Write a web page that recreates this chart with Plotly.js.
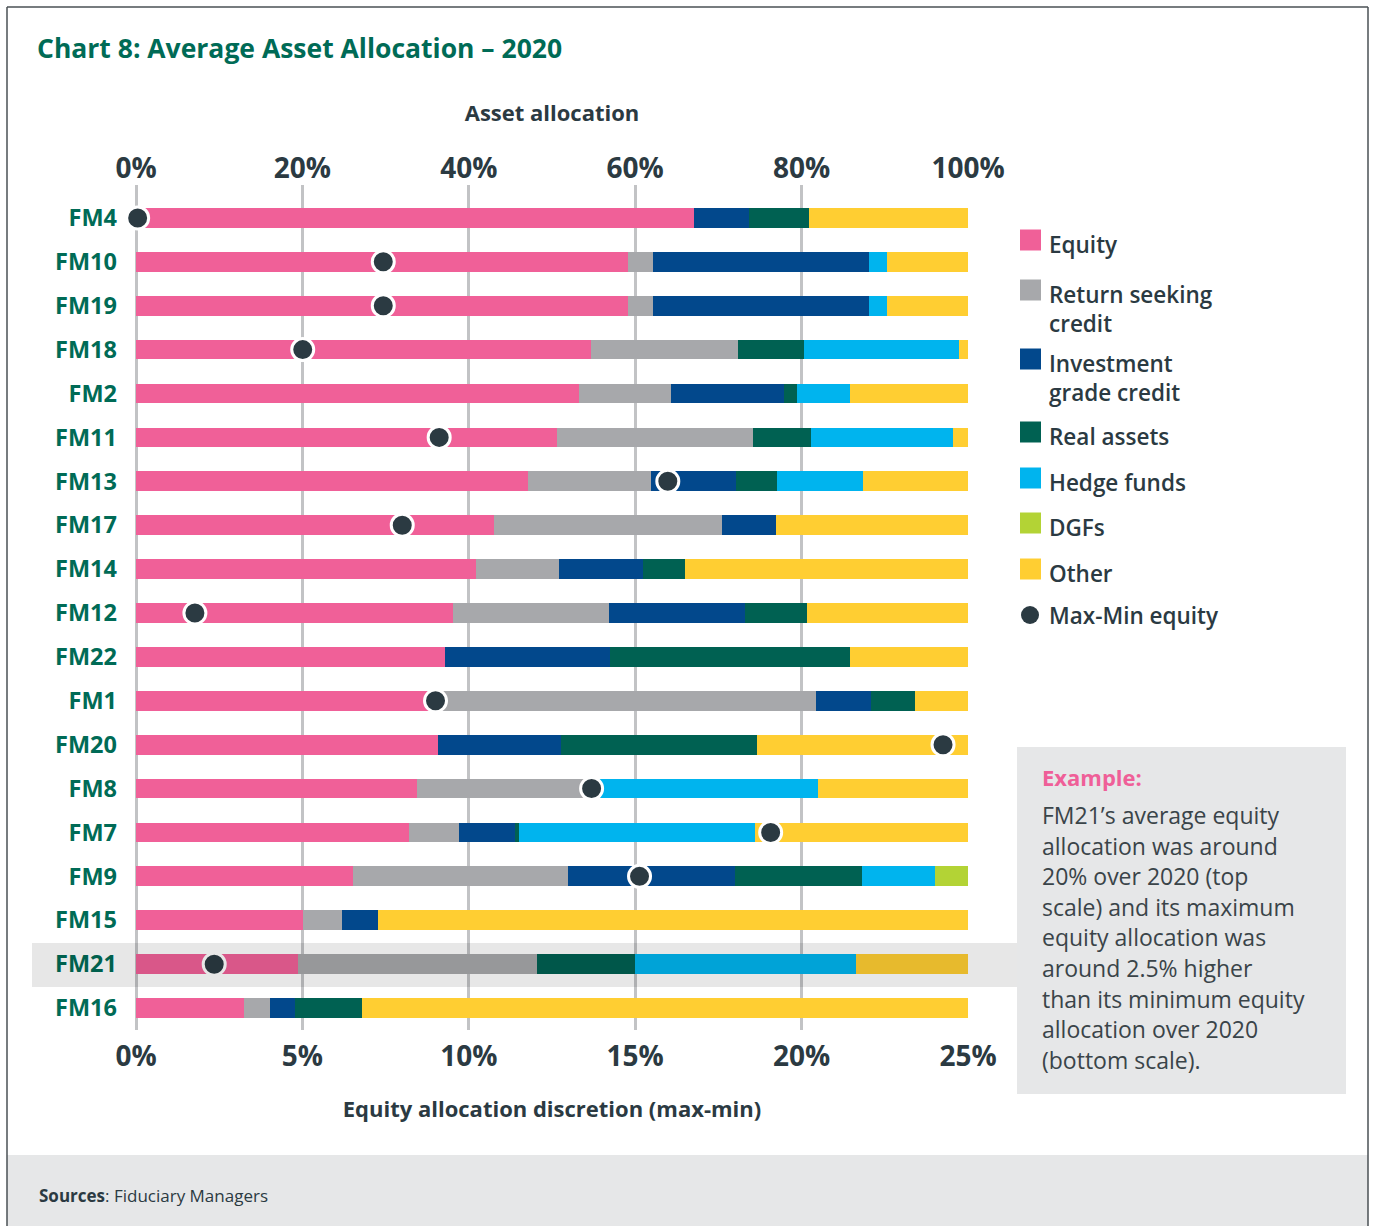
<!DOCTYPE html>
<html>
<head>
<meta charset="utf-8">
<script src="https://cdn.plot.ly/plotly-3.0.1.min.js"></script>
<style>html,body{margin:0;padding:0;background:#fff;}#chart{width:1373px;height:1226px;}</style>
</head>
<body>
<div id="chart"></div>
<script>
// ---------- DATA ----------
const managers = ["FM4","FM10","FM19","FM18","FM2","FM11","FM13","FM17","FM14","FM12","FM22","FM1","FM20","FM8","FM7","FM9","FM15","FM21","FM16"];
const equity      = [67.1, 59.1, 59.1, 54.7, 53.2, 50.6, 47.1, 43.0, 40.9, 38.1, 37.1, 35.9, 36.3, 33.8, 32.8, 26.1, 20.1, 19.5, 13.0];
const returnCredit= [ 0.0,  3.0,  3.0, 17.7, 11.1, 23.6, 14.8, 27.4,  9.9, 18.8,  0.0, 45.8,  0.0, 21.0,  6.0, 25.8,  4.7, 28.7,  3.1];
const igCredit    = [ 6.6, 26.0, 26.0,  0.0, 13.6,  0.0, 10.2,  6.5, 10.1, 16.3, 19.9,  6.6, 14.8,  0.0,  6.8, 20.1,  4.3,  0.0,  3.0];
const realAssets  = [ 7.2,  0.0,  0.0,  7.9,  1.5,  6.9,  4.9,  0.0,  5.1,  7.4, 28.8,  5.3, 23.5,  0.0,  0.4, 15.3,  0.0, 11.8,  8.1];
const hedgeFunds  = [ 0.0,  2.2,  2.2, 18.6,  6.4, 17.1, 10.4,  0.0,  0.0,  0.0,  0.0,  0.0,  0.0, 27.2, 28.4,  8.7,  0.0, 26.5,  0.0];
const dgfs        = [ 0.0,  0.0,  0.0,  0.0,  0.0,  0.0,  0.0,  0.0,  0.0,  0.0,  0.0,  0.0,  0.0,  0.0,  0.0,  4.0,  0.0,  0.0,  0.0];
const other       = [19.1,  9.7,  9.7,  1.1, 14.2,  1.8, 12.6, 23.1, 34.0, 19.4, 14.2,  6.4, 25.4, 18.0, 25.6,  0.0, 70.9, 13.5, 72.8];
// Max-min equity discretion (bottom scale, %); null = no dot
const maxMinEquity= [0.05, 7.43, 7.43, 5.01, null, 9.11, 15.98, 8.0, null, 1.77, null, 9.0, 24.25, 13.69, 19.07, 15.13, null, 2.35, null];

const seriesNames = ["Equity","Return seeking credit","Investment grade credit","Real assets","Hedge funds","DGFs","Other"];
const seriesValues = [equity, returnCredit, igCredit, realAssets, hedgeFunds, dgfs, other];
const seriesColors = ["#f06098","#a7a8ab","#02488c","#006152","#00b4ee","#b3d335","#ffce32"];
const legendLabels = ["Equity","Return seeking<br>credit","Investment<br>grade credit","Real assets","Hedge funds","DGFs","Other"];
const topTicks = [0,20,40,60,80,100];
const bottomTicks = [0,5,10,15,20,25];
const exampleLines = ["FM21\u2019s average equity","allocation was around","20% over 2020 (top","scale) and its maximum","equity allocation was","around 2.5% higher","than its minimum equity","allocation over 2020","(bottom scale)."];

// ---------- LAYOUT HELPERS ----------
const W = 1373, H = 1226;
const L = 136, R = 968, T = 185, B = 1030;
const px = x => (x - L) / (R - L);
const py = y => (B - y) / (B - T);
const FONT = "'Open Sans', 'DejaVu Sans', sans-serif";
const DARK = "#2b3a42";
const GREEN = "#006b56";

const traces = seriesNames.map((name, i) => ({
  type: "bar", orientation: "h", name: name,
  y: managers, x: seriesValues[i],
  xaxis: "x", yaxis: "y",
  width: 0.45,
  marker: {color: seriesColors[i], line: {width: 0}},
  hovertemplate: "%{y}: %{x}%<extra>" + name + "</extra>",
  showlegend: false
}));
traces.push({
  type: "scatter", mode: "markers", name: "Max-Min equity",
  y: managers, x: maxMinEquity, xaxis: "x2", yaxis: "y",
  marker: {color: DARK, size: 22, line: {color: "#ffffff", width: 3}},
  showlegend: false, cliponaxis: false
});

const shapes = [
  {type:"rect", xref:"paper", yref:"paper", x0:px(7), x1:px(1368), y0:py(1155), y1:py(1226), fillcolor:"#e6e7e8", line:{width:0}, layer:"below"},
  {type:"line", xref:"paper", yref:"paper", x0:px(7), x1:px(7), y0:py(7), y1:py(1226), line:{color:"#4a5055", width:1.5}},
  {type:"line", xref:"paper", yref:"paper", x0:px(1368), x1:px(1368), y0:py(7), y1:py(1226), line:{color:"#4a5055", width:1.5}},
  {type:"line", xref:"paper", yref:"paper", x0:px(7), x1:px(1368), y0:py(7), y1:py(7), line:{color:"#4a5055", width:1.5}},
  {type:"rect", xref:"paper", yref:"paper", x0:px(32), x1:px(1017), y0:py(943), y1:py(987), fillcolor:"rgba(0,0,0,0.095)", line:{width:0}, layer:"above"},
  {type:"rect", xref:"paper", yref:"paper", x0:px(1017), x1:px(1346), y0:py(747), y1:py(1094), fillcolor:"#e6e7e8", line:{width:0}, layer:"below"}
];

const annotations = [];
const legendRowY = [240, 290, 359, 432, 478, 523, 569];
legendLabels.forEach((t, i) => {
  const yc = legendRowY[i];
  shapes.push({type:"rect", xref:"paper", yref:"paper", x0:px(1020), x1:px(1041), y0:py(yc-10.5), y1:py(yc+10.5), fillcolor:seriesColors[i], line:{width:0}});
  annotations.push({xref:"paper", yref:"paper", x:px(1047), y:py(yc - 13), xanchor:"left", yanchor:"top", align:"left", showarrow:false,
    text:t, font:{family:FONT, size:22.5, color:DARK, weight:600}});
});
shapes.push({type:"circle", xref:"paper", yref:"paper", x0:px(1021), x1:px(1039), y0:py(606), y1:py(624), fillcolor:DARK, line:{width:0}});
annotations.push({xref:"paper", yref:"paper", x:px(1047), y:py(615), xanchor:"left", yanchor:"middle", showarrow:false,
  text:"Max-Min equity", font:{family:FONT, size:22.5, color:DARK, weight:600}});

annotations.push({xref:"paper", yref:"paper", x:px(1040), y:py(777), xanchor:"left", yanchor:"middle", showarrow:false,
  text:"<b>Example:</b>", font:{family:FONT, size:22, color:"#ef5f98"}});
exampleLines.forEach((t, j) => {
  annotations.push({xref:"paper", yref:"paper", x:px(1040), y:py(815 + j*30.6), xanchor:"left", yanchor:"middle", showarrow:false,
    text:t, font:{family:FONT, size:23, color:"#3a4449", weight:400}});
});
annotations.push({xref:"paper", yref:"paper", x:px(37), y:py(1195), xanchor:"left", yanchor:"middle", showarrow:false,
  text:"<b>Sources</b>: Fiduciary Managers", font:{family:FONT, size:17, color:DARK}});

const layout = {
  width: W, height: H,
  margin: {l: L, r: W - R, t: T, b: H - B, pad: 0},
  paper_bgcolor: "#ffffff", plot_bgcolor: "#ffffff",
  barmode: "stack", bargap: 0,
  showlegend: false,
  font: {family: FONT, color: DARK},
  title: {text: "<b>Chart 8: Average Asset Allocation \u2013 2020</b>", font:{family:FONT, size:26.5, color:GREEN},
          x: 37/W, xref:"container", xanchor:"left", y: 1 - 49/H, yref:"container", yanchor:"middle"},
  xaxis: {
    range: [0, 100], side: "top",
    tickvals: topTicks, ticktext: topTicks.map(v => v + "%"),
    showgrid: true, gridcolor: "#c2c3c5", gridwidth: 3,
    zeroline: true, zerolinecolor: "#c2c3c5", zerolinewidth: 3,
    showline: false, ticks: "", ticklabelstandoff: 0,
    tickfont: {family: FONT, size: 28, color: DARK, weight: 700},
    title: {text: "<b>Asset allocation</b>", font:{family:FONT, size:22, color:DARK}, standoff: 20},
    fixedrange: true
  },
  xaxis2: {
    range: [0, 25], side: "bottom", overlaying: "x", anchor: "y",
    tickvals: bottomTicks, ticktext: bottomTicks.map(v => v + "%"),
    showgrid: false, zeroline: false, showline: false, ticks: "", ticklabelstandoff: 7,
    tickfont: {family: FONT, size: 28, color: DARK, weight: 700},
    title: {text: "<b>Equity allocation discretion (max-min)</b>", font:{family:FONT, size:22, color:DARK}, standoff: 28},
    fixedrange: true
  },
  yaxis: {
    type: "category", categoryorder: "array", categoryarray: managers,
    range: [18.5, -0.75],
    showgrid: false, zeroline: false, showline: false, ticks: "", ticklabelstandoff: 18,
    tickfont: {family: FONT, size: 23.5, color: GREEN, weight: 700},
    fixedrange: true
  },
  shapes: shapes,
  annotations: annotations
};

Plotly.newPlot("chart", traces, layout, {displayModeBar: false, staticPlot: true});
</script>
</body>
</html>
